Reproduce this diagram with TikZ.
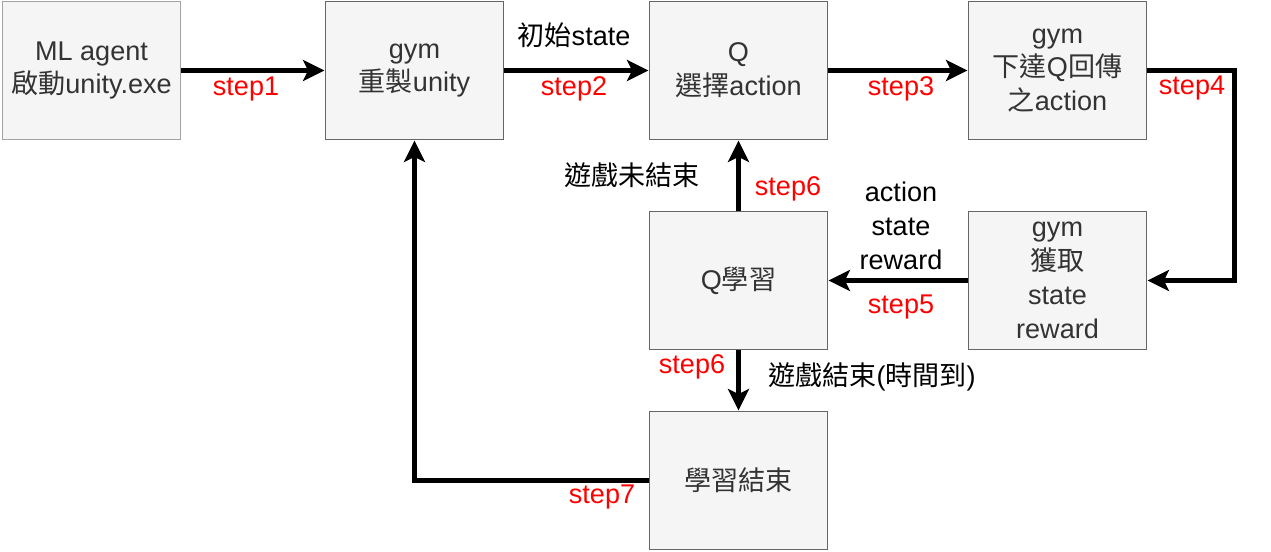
\documentclass[tikz,border=0pt]{standalone}
\usepackage{fontspec}
\setmainfont{Liberation Sans}
\newfontfamily\cjk{Noto Sans CJK TC}
\usetikzlibrary{arrows.meta}
\definecolor{boxfill}{HTML}{F5F5F5}
\definecolor{boxline}{HTML}{666666}
\definecolor{boxtext}{HTML}{333333}
\definecolor{stepred}{HTML}{FF0000}

\begin{document}
\begin{tikzpicture}[x=0.02cm,y=-0.02cm,
    font=\fontsize{15.4}{19.3}\selectfont,
    box/.style={draw=boxline,fill=boxfill,text=boxtext,line width=0.02cm,minimum width=3.58cm,minimum height=2.78cm,align=center,inner sep=0pt},
    flow/.style={line width=0.09cm,-{Stealth[length=0.43cm,width=0.42cm,inset=0.1cm]}},
    steplbl/.style={text=stepred,anchor=base},
    lbl/.style={anchor=base}]
      \useasboundingbox (0,0) rectangle (1271,551);
      % boxes
      \node[box,draw=boxline!60] (agent) at (91.5,70.5) {ML agent\\{\cjk 啟動}unity.exe};
      \node[box] (gymreset) at (414.5,70.5) {gym\\{\cjk 重製}unity};
      \node[box] (qselect) at (738.5,70.5) {Q\\{\cjk 選擇}action};
      \node[box] (gymact) at (1057.5,70.5) {gym\\{\cjk 下達}Q{\cjk 回傳}\\{\cjk 之}action};
      \node[box] (gymobs) at (1057.5,280.5) {gym\\{\cjk 獲取}\\state\\reward};
      \node[box] (qlearn) at (738.5,280.5) {Q{\cjk 學習}};
      \node[box] (learnend) at (738.5,480.5) {\cjk 學習結束};
      % connectors
      \draw[flow] (agent) -- (gymreset);
      \draw[flow] (gymreset) -- (qselect);
      \draw[flow] (qselect) -- (gymact);
      \draw[flow] (gymact.east) -- ++(87,0) |- (gymobs.east);
      \draw[flow] (gymobs) -- (qlearn);
      \draw[flow] (qlearn) -- (qselect);
      \draw[flow] (qlearn) -- (learnend);
      \draw[flow] (learnend.west) -| (gymreset.south);
      % labels
      \node[steplbl] (s1) at (246,95) {step1};
      \node[lbl] (init) at (574,45) {{\cjk 初始}state};
      \node[steplbl] (s2) at (574,95) {step2};
      \node[steplbl] (s3) at (901,95) {step3};
      \node[steplbl] (s4) at (1192,94) {step4};
      \node[lbl] (notover) at (632,185) {\cjk 遊戲未結束};
      \node[steplbl] (s6a) at (788,195) {step6};
      \node[align=center] (obs) at (901,226) {action\\state\\reward};
      \node[steplbl] (s5) at (901,313) {step5};
      \node[steplbl] (s6b) at (692,373) {step6};
      \node[lbl] (over) at (872,385) {{\cjk 遊戲結束}({\cjk 時間到})};
      \node[steplbl] (s7) at (602,503) {step7};
    \end{tikzpicture}
\end{document}
